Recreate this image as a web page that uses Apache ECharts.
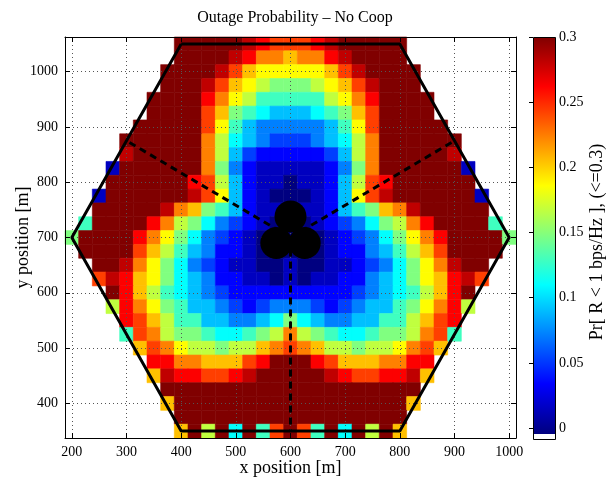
<!DOCTYPE html>
<html>
<head>
<meta charset="utf-8">
<script src="https://cdn.jsdelivr.net/npm/echarts@6/dist/echarts.min.js"></script>
<style>
  html, body { margin: 0; padding: 0; background: #fff; }
  #main { width: 611px; height: 481px; }
</style>
</head>
<body>
<div id="main"></div>
<script>
// cell centres of the 25 m simulation grid
const xCells = [200, 225, 250, 275, 300, 325, 350, 375, 400, 425, 450, 475, 500, 525, 550, 575, 600,
  625, 650, 675, 700, 725, 750, 775, 800, 825, 850, 875, 900, 925, 950, 975, 1000]
const yCells = [1050, 1025, 1000, 975, 950, 925, 900, 875, 850, 825, 800, 775, 750, 725, 700,
  675, 650, 625, 600, 575, 550, 525, 500, 475, 450, 425, 400, 375, 350]

// outage level per cell, one char per cell: '0'..'G' -> levelValues, '.' = outside the cell
const levelCodes = '0123456789ABCDEFG'
const levelValues = [0, 0.019, 0.038, 0.056, 0.075, 0.094, 0.113, 0.131, 0.15,
  0.169, 0.188, 0.206, 0.225, 0.244, 0.263, 0.281, 0.3]
const outageRows = [
  '........GGGGGFEDDDEFGGGGG........',
  '........GGGGFECCBCCEFGGGG........',
  '.......GGGGFDBAAAAABDFGGGG.......',
  '.......GGGFDBA98889ABDFGGG.......',
  '......GGGGECA9777779ACEGGGG......',
  '......GGGGDB876555678BDGGGG......',
  '.....GGGGGDA754444457ADGGGGG.....',
  '....GGGGGGC96543334569CGGGGGG....',
  '....FGGGGGC95322222359CGGGGGF....',
  '...1GGGGGGC84211111248CGGGGGG1...',
  '...GGGGGGED95211011259DEGGGGGG...',
  '..1GGGGGGFDA521000125ADFGGGGGG1..',
  '..GGGGGFCB8752110112578BCFGGGGG..',
  '.7GGGGEC98643210001234689CEGGGG7.',
  '8GGGGECA86432100000123468ACEGGGG8',
  '.GGGGDB9754221000001224579BDGGGG.',
  '..GGFCA8643211001001123468ACFGG..',
  '..DFEBA8654221101011224568ABEFD..',
  '...GEB976543222222222345679BEG...',
  '...9ECA8755432344432345578ACE9...',
  '....EDB9775544568654455779BDE....',
  '....7DC988766789C987667889CD7....',
  '.....BDCA99899BCDCB99899ACDB.....',
  '......EECCBBBDEGGGEDBBBCCEE......',
  '......BFEEDDEFGGGGGFEDDEEFB......',
  '.......GGGGGGGGGGGGGGGGGGG.......',
  '.......BGGGGGGGGGGGGGGGGGB.......',
  '........GGGGGGGGGGGGGGGGG........',
  '........BG9G6G7DGD7G6G9GB........'
]
const cellSize = 25

// cell outline and sector borders [m]
const hexX = [400, 800, 1000, 800, 400, 200, 400]
const hexY = [1050, 1050, 700, 350, 350, 700, 1050]
const siteX = 600
const siteY = 700
const sectorEndX = [300, 900, 600]
const sectorEndY = [875, 875, 350]
// base station positions
const bsX = [600, 574, 626]
const bsY = [738, 690, 690]

const jet = ['#000080', '#0000ff', '#0080ff', '#00ffff', '#80ff80', '#ffff00', '#ff8000', '#ff0000', '#800000']
const font = 'Liberation Serif'

const cells = []
outageRows.forEach((row, r) => {
  for (let c = 0; c < row.length; c++) {
    const k = levelCodes.indexOf(row[c])
    if (k >= 0) cells.push([xCells[c], yCells[r], levelValues[k]])
  }
})

const sectorSeries = sectorEndX.map((ex, i) => ({
  type: 'line',
  data: [[siteX, siteY], [ex, sectorEndY[i]]],
  symbol: 'none',
  lineStyle: { color: '#000', width: 3, type: [7, 5] },
  z: 4,
  silent: true
}))

const tickFont = { color: '#000', fontSize: 14, fontFamily: font, formatter: v => String(v) }
const nameFont = { color: '#000', fontSize: 18, fontFamily: font }
const gridLine = { show: true, lineStyle: { color: '#555', width: 1, type: [1, 3] } }
const frameLine = { show: true, onZero: false, lineStyle: { color: '#000', width: 1 } }
const inTick = { inside: true, length: 5, lineStyle: { color: '#000' } }

const chart = echarts.init(document.getElementById('main'))
chart.setOption({
  animation: false,
  backgroundColor: '#fff',
  title: {
    text: 'Outage Probability – No Coop',
    left: 290,
    top: 5,
    textAlign: 'center',
    textStyle: { fontFamily: font, fontSize: 16, fontWeight: 'normal', color: '#000' }
  },
  grid: [
    { left: 65, top: 37, width: 451, height: 401, outerBoundsMode: 'none' },
    { left: 533, top: 37, width: 22, height: 391, outerBoundsMode: 'none' }
  ],
  xAxis: [
    {
      type: 'value', min: 187.5, max: 1012.5, splitNumber: 8, minInterval: 100, maxInterval: 100,
      position: 'bottom', z: 3,
      axisLine: frameLine, axisTick: inTick, splitLine: gridLine,
      axisLabel: Object.assign({ showMinLabel: false, showMaxLabel: false, margin: 7 }, tickFont),
      name: 'x position [m]', nameLocation: 'middle', nameGap: 21, nameMoveOverlap: false,
      nameTextStyle: nameFont
    },
    {
      type: 'value', min: 187.5, max: 1012.5, splitNumber: 8, minInterval: 100, maxInterval: 100,
      position: 'top', z: 3,
      axisLine: frameLine, axisTick: inTick, splitLine: { show: false }, axisLabel: { show: false }
    },
    { gridIndex: 1, type: 'value', min: 0, max: 1, show: false }
  ],
  yAxis: [
    {
      type: 'value', min: 337.5, max: 1062.5, splitNumber: 7, minInterval: 100, maxInterval: 100,
      position: 'left', z: 3,
      axisLine: frameLine, axisTick: inTick, splitLine: gridLine,
      axisLabel: Object.assign({ showMinLabel: false, showMaxLabel: false, margin: 7 }, tickFont),
      name: 'y position [m]', nameLocation: 'middle', nameRotate: 90, nameGap: 33, nameMoveOverlap: false,
      nameTextStyle: nameFont
    },
    {
      type: 'value', min: 337.5, max: 1062.5, splitNumber: 7, minInterval: 100, maxInterval: 100,
      position: 'right', z: 3,
      axisLine: frameLine, axisTick: inTick, splitLine: { show: false }, axisLabel: { show: false }
    },
    {
      gridIndex: 1, type: 'value', min: 0, max: 0.3, interval: 0.05, position: 'right',
      axisLine: { show: false }, splitLine: { show: false },
      axisTick: { inside: true, length: 4, lineStyle: { color: '#000' } },
      axisLabel: Object.assign({ margin: 4 }, tickFont)
    }
  ],
  visualMap: {
    show: false,
    type: 'continuous',
    seriesIndex: 0,
    dimension: 2,
    min: 0,
    max: 0.3,
    inRange: { color: jet }
  },
  graphic: [
    {
      type: 'rect', left: 533, top: 37, z: 1,
      shape: { width: 22, height: 402 },
      style: {
        stroke: '#000', lineWidth: 1,
        fill: new echarts.graphic.LinearGradient(0, 0, 0, 1, [
          { offset: 0, color: jet[8] }, { offset: 0.123, color: jet[7] },
          { offset: 0.246, color: jet[6] }, { offset: 0.369, color: jet[5] },
          { offset: 0.492, color: jet[4] }, { offset: 0.615, color: jet[3] },
          { offset: 0.738, color: jet[2] }, { offset: 0.861, color: jet[1] },
          { offset: 0.984, color: jet[0] }, { offset: 0.985, color: '#fff' },
          { offset: 1, color: '#fff' }
        ])
      }
    },
    {
      type: 'text', x: 597, y: 242, rotation: Math.PI / 2,
      style: {
        text: 'Pr[ R < 1 bps/Hz ], (<=0.3)', fill: '#000',
        font: '18px "Liberation Serif"', align: 'center', verticalAlign: 'middle'
      }
    }
  ],
  series: [
    {
      type: 'custom',
      data: cells,
      z: 2,
      renderItem: function (params, api) {
        const x = api.value(0)
        const y = api.value(1)
        const p0 = api.coord([x - cellSize / 2, y + cellSize / 2])
        const p1 = api.coord([x + cellSize / 2, y - cellSize / 2])
        const color = api.visual('color')
        return {
          type: 'rect',
          shape: { x: p0[0], y: p0[1], width: p1[0] - p0[0], height: p1[1] - p0[1] },
          style: { fill: color, stroke: color, lineWidth: 0.6 }
        }
      }
    },
    {
      type: 'line',
      data: hexX.map((x, i) => [x, hexY[i]]),
      symbol: 'none',
      lineStyle: { color: '#000', width: 3 },
      z: 4,
      silent: true
    },
    ...sectorSeries,
    {
      type: 'scatter',
      data: bsX.map((x, i) => [x, bsY[i]]),
      symbolSize: 32,
      itemStyle: { color: '#000', opacity: 1 },
      z: 5,
      silent: true
    }
  ]
})
</script>
</body>
</html>
